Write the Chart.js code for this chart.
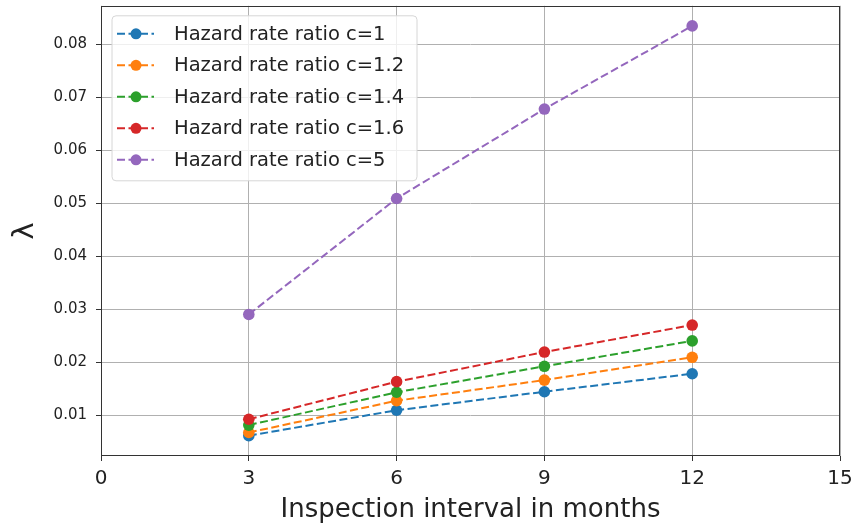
<!DOCTYPE html>
<html>
<head>
<meta charset="utf-8">
<script src="https://cdn.jsdelivr.net/npm/chart.js@4.4.1/dist/chart.umd.min.js"></script>
<style>
  html, body { margin: 0; padding: 0; background: #fff; }
  #wrap { width: 855px; height: 524px; }
</style>
</head>
<body>
<div id="wrap"><canvas id="hazardChart" width="855" height="524"></canvas></div>
<script>
// data
const months = [3, 6, 9, 12];
const ratioC1 = [0.0061, 0.0109, 0.0144, 0.0178];
const ratioC12 = [0.0067, 0.0127, 0.0166, 0.0209];
const ratioC14 = [0.0081, 0.0143, 0.0192, 0.0240];
const ratioC16 = [0.0092, 0.0163, 0.0219, 0.0270];
const ratioC5 = [0.0290, 0.0509, 0.0678, 0.0835];

const seriesLabels = ['Hazard rate ratio c=1', 'Hazard rate ratio c=1.2', 'Hazard rate ratio c=1.4',
    'Hazard rate ratio c=1.6', 'Hazard rate ratio c=5'];
const seriesValues = [ratioC1, ratioC12, ratioC14, ratioC16, ratioC5];
const seriesColors = ['#1f77b4', '#ff7f0e', '#2ca02c', '#d62728', '#9467bd'];

const xTicks = [0, 3, 6, 9, 12, 15];
const yTicks = [0.01, 0.02, 0.03, 0.04, 0.05, 0.06, 0.07, 0.08];

const FONT = "'DejaVu Sans', sans-serif";
const TEXT = '#222';

// frame + legend drawn over the plot, matplotlib style
const framePlugin = {
    id: 'frameLegend',
    afterDraw(chart) {
        const ctx = chart.ctx;
        const a = chart.chartArea;
        ctx.save();
        ctx.strokeStyle = '#333';
        ctx.lineWidth = 1;
        const l = Math.round(a.left) + 0.5, t = Math.round(a.top) + 0.5;
        const r = Math.round(a.right) - 0.5, b = Math.round(a.bottom) - 0.5;
        ctx.strokeRect(l, t, r - l, b - t);

        // legend box
        const x0 = a.left + 11, y0 = a.top + 10, w = 305, h = 165, rowH = 31.5;
        ctx.beginPath();
        ctx.roundRect(x0, y0, w, h, 4);
        ctx.fillStyle = 'rgba(255,255,255,0.8)';
        ctx.fill();
        ctx.strokeStyle = '#d6d6d6';
        ctx.stroke();

        chart.data.datasets.forEach((ds, i) => {
            const cy = y0 + 18 + i * rowH;
            ctx.strokeStyle = ds.borderColor;
            ctx.lineWidth = 2;
            ctx.setLineDash(ds.borderDash);
            ctx.beginPath();
            ctx.moveTo(x0 + 5, cy);
            ctx.lineTo(x0 + 42, cy);
            ctx.stroke();
            ctx.setLineDash([]);
            ctx.fillStyle = ds.borderColor;
            ctx.beginPath();
            ctx.arc(x0 + 24, cy, 5.5, 0, Math.PI * 2);
            ctx.fill();
            ctx.fillStyle = TEXT;
            ctx.font = '19.5px ' + FONT;
            ctx.textBaseline = 'middle';
            ctx.textAlign = 'left';
            ctx.fillText(ds.label, x0 + 62, cy + 1);
        });
        ctx.restore();
    }
};

const datasets = seriesLabels.map((label, i) => ({
    label,
    data: months.map((m, j) => ({ x: m, y: seriesValues[i][j] })),
    borderColor: seriesColors[i],
    backgroundColor: seriesColors[i],
    borderWidth: 2,
    borderDash: [8, 3.5],
    pointRadius: 5.8,
    pointBorderWidth: 0,
    pointHoverRadius: 5.8,
    tension: 0,
    fill: false,
    order: seriesLabels.length - i
}));

new Chart(document.getElementById('hazardChart').getContext('2d'), {
    type: 'line',
    data: { datasets },
    options: {
        responsive: false,
        animation: false,
        layout: { padding: { left: 0, top: 5, right: 15, bottom: 0 } },
        plugins: {
            legend: { display: false },
            tooltip: { enabled: false }
        },
        scales: {
            x: {
                type: 'linear',
                min: 0,
                max: 15,
                afterBuildTicks: s => { s.ticks = xTicks.map(v => ({ value: v })); },
                afterFit: s => { s.height = 68; s.paddingLeft = 0; s.paddingRight = 0; },
                grid: { color: '#b0b0b0', lineWidth: 1, tickLength: 5, tickColor: '#333' },
                border: { display: false },
                ticks: { color: TEXT, font: { family: FONT, size: 20 }, padding: 6, maxRotation: 0 },
                title: {
                    display: true,
                    text: 'Inspection interval in months',
                    color: TEXT,
                    font: { family: FONT, size: 26 },
                    padding: { top: 0, bottom: -2 }
                }
            },
            y: {
                type: 'linear',
                min: 0.00226,
                max: 0.0873,
                afterBuildTicks: s => { s.ticks = yTicks.map(v => ({ value: v })); },
                afterFit: s => { s.width = 101; s.paddingTop = 0; s.paddingBottom = 0; },
                grid: { color: '#b0b0b0', lineWidth: 1, tickLength: 5, tickColor: '#333' },
                border: { display: false },
                ticks: {
                    color: TEXT,
                    font: { family: FONT, size: 15 },
                    padding: 9,
                    callback: v => v.toFixed(2)
                },
                title: {
                    display: true,
                    text: 'λ',
                    color: TEXT,
                    font: { family: FONT, size: 29 },
                    padding: { top: 8, bottom: 0 }
                }
            }
        }
    },
    plugins: [framePlugin]
});
</script>
</body>
</html>
